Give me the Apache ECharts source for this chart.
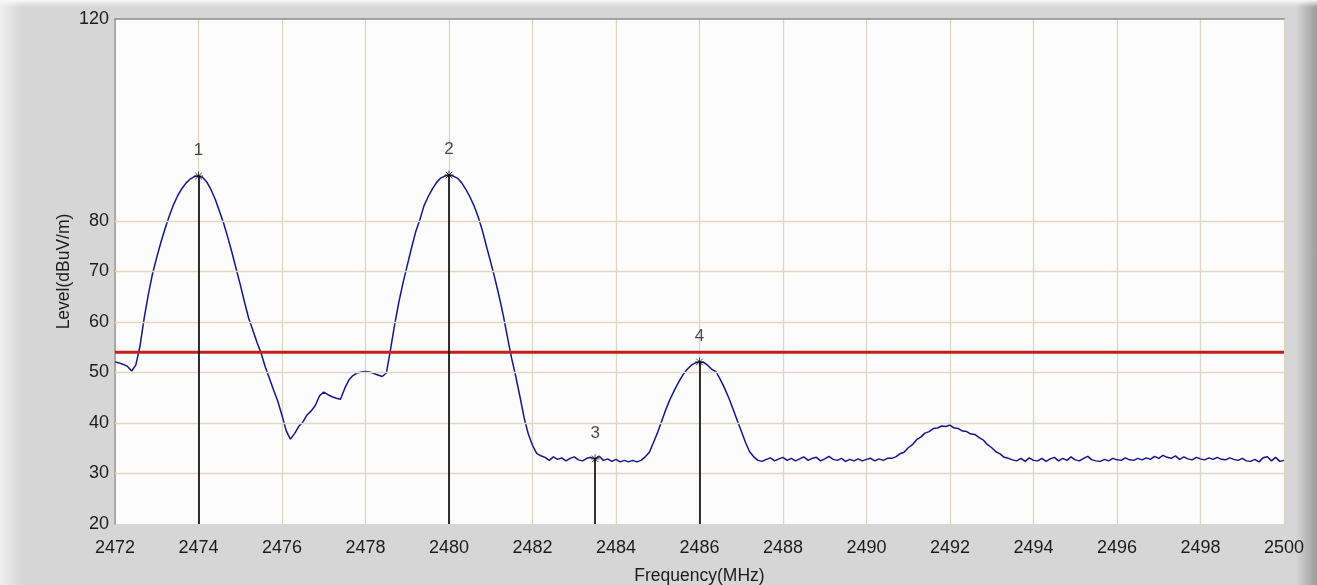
<!DOCTYPE html>
<html>
<head>
<meta charset="utf-8">
<title>Frequency sweep</title>
<script src="https://cdn.jsdelivr.net/npm/echarts@6/dist/echarts.min.js"></script>
<style>
  html, body { margin: 0; padding: 0; }
  #chart {
    width: 1317px; height: 585px;
    background:
      linear-gradient(to bottom, rgba(250,250,250,0.95) 0px, rgba(250,250,250,0) 7px),
      linear-gradient(to right, #efefef 0px, #d6d6d6 22px, #d6d6d6 1296px, #c8c8c8 1301px, #9c9c9c 1317px);
  }
</style>
</head>
<body>
<div id="chart"></div>
<script>
// Sweep: 2472 MHz to 2500 MHz, one reading every 0.1 MHz (dBuV/m)
const freqStart = 2472;
const freqStep = 0.1;
const levels = [
  52.1, 51.9, 51.6, 51.2, 50.3, 51.5, 55.3, 60.8, 65.5, 69.6,   // 2472
  72.8, 75.8, 78.5, 81.0, 83.2, 85.0, 86.4, 87.5, 88.3, 88.8,   // 2473
  88.9, 88.6, 87.7, 86.2, 84.3, 82.0, 79.6, 76.8, 73.8, 70.6,   // 2474
  67.4, 64.0, 60.8, 58.4, 56.0, 53.8, 51.1, 48.8, 46.5, 44.3,   // 2475
  41.5, 38.5, 36.8, 37.9, 39.3, 40.2, 41.6, 42.4, 43.5, 45.4,   // 2476
  46.1, 45.6, 45.2, 44.9, 44.7, 46.8, 48.5, 49.4, 49.9, 50.1,   // 2477
  50.2, 50.1, 49.8, 49.5, 49.2, 49.9, 54.6, 59.6, 64.0, 67.8,   // 2478
  71.2, 74.6, 77.8, 80.2, 83.0, 84.8, 86.3, 87.6, 88.5, 88.9,   // 2479
  89.1, 88.9, 88.5, 87.6, 86.3, 84.8, 83.0, 80.8, 78.1, 74.9,   // 2480
  71.8, 68.6, 65.1, 61.3, 57.0, 52.8, 49.2, 45.2, 41.0, 37.8,   // 2481
  35.6, 34.0, 33.5, 33.2, 32.6, 33.3, 32.8, 33.1, 32.5, 33.0,   // 2482
  33.3, 32.7, 32.5, 33.0, 33.2, 32.9, 33.4, 32.6, 32.9, 32.4,   // 2483
  32.8, 32.3, 32.6, 32.3, 32.6, 32.3, 32.6, 33.3, 34.2, 36.2,   // 2484
  38.2, 40.5, 42.8, 44.8, 46.5, 48.1, 49.5, 50.6, 51.4, 51.9,   // 2485
  52.1, 52.0, 51.4, 50.6, 50.1, 48.6, 46.9, 45.0, 42.8, 40.6,   // 2486
  38.4, 36.2, 34.3, 33.3, 32.6, 32.4, 32.8, 33.1, 32.5, 32.9,   // 2487
  33.2, 32.6, 33.0, 32.5, 32.9, 33.3, 32.6, 33.0, 33.2, 32.5,   // 2488
  32.9, 33.4, 32.8, 32.6, 33.0, 32.4, 32.8, 32.5, 32.9, 32.5,   // 2489
  32.8, 33.0, 32.5, 32.9, 32.6, 33.0, 33.0, 33.3, 33.9, 34.2,   // 2490
  35.1, 35.7, 36.7, 37.2, 38.0, 38.3, 38.9, 39.0, 39.4, 39.3,   // 2491
  39.6, 39.0, 38.9, 38.4, 38.3, 37.8, 37.7, 37.1, 36.6, 35.7,   // 2492
  35.1, 34.3, 33.9, 33.2, 33.0, 32.7, 32.5, 33.0, 32.4, 33.1,   // 2493
  32.6, 32.5, 33.0, 32.4, 32.9, 33.2, 32.5, 33.0, 32.6, 33.3,   // 2494
  32.7, 32.5, 33.0, 33.4, 32.7, 32.5, 32.4, 32.8, 32.5, 33.0,   // 2495
  32.7, 32.6, 33.1, 32.7, 32.6, 33.0, 32.7, 33.1, 32.8, 33.4,   // 2496
  33.0, 33.6, 33.2, 33.0, 33.5, 32.8, 33.3, 32.9, 32.7, 33.2,   // 2497
  32.9, 32.7, 33.1, 32.8, 33.2, 32.8, 32.7, 33.1, 32.8, 32.6,   // 2498
  33.0, 32.5, 32.4, 32.8, 32.3, 33.1, 33.3, 32.5, 33.2, 32.4,   // 2499
  32.6                                                          // 2500
];

// Limit line
const limitLevel = 54;

// Peak markers
const markerNames  = ['1', '2', '3', '4'];
const markerFreqs  = [2474, 2480, 2483.5, 2486];
const markerLevels = [88.9, 89.1, 32.9, 52.1];

// Axis ticks
const freqMin = 2472, freqMax = 2500, freqInterval = 2;
const levelMin = 20, levelMax = 120, levelInterval = 10;
const levelLabels = [20, 30, 40, 50, 60, 70, 80, 120];
const levelGridLines = [30, 40, 50, 60, 70, 80];

const tracePoints = levels.map((v, i) => [Math.round((freqStart + i * freqStep) * 10) / 10, v]);
const markerPoints = markerFreqs.map((f, i) => ({ name: markerNames[i], value: [f, markerLevels[i]] }));

const font = 'Liberation Sans, Arial, sans-serif';
const textColor = '#1c1c1c';
const gridColor = '#ddd7c3';

const chart = echarts.init(document.getElementById('chart'), null, { renderer: 'canvas' });

chart.setOption({
  animation: false,
  backgroundColor: 'transparent',
  grid: {
    left: 115, right: 33, top: 19, bottom: 61,
    containLabel: false,
    outerBoundsMode: 'none',
    show: true, backgroundColor: '#fcfcfc', borderWidth: 0
  },
  xAxis: [{
    type: 'value',
    min: freqMin, max: freqMax, interval: freqInterval,
    name: 'Frequency(MHz)',
    nameLocation: 'middle',
    nameGap: 43,
    nameMoveOverlap: false,
    nameTextStyle: { fontFamily: font, fontSize: 17.5, color: textColor },
    axisLine: { show: false },
    axisTick: { show: false },
    axisLabel: { fontFamily: font, fontSize: 18, color: textColor, margin: 15, formatter: v => String(v) },
    splitLine: { show: true, lineStyle: { color: gridColor, width: 1.3 } }
  }, {
    type: 'value',
    position: 'top',
    min: freqMin, max: freqMax,
    axisLine: { show: true, onZero: false, lineStyle: { color: '#8c8c8c', width: 1.5 } },
    axisTick: { show: false },
    axisLabel: { show: false },
    splitLine: { show: false }
  }],
  yAxis: {
    type: 'value',
    min: levelMin, max: levelMax, interval: levelInterval,
    name: 'Level(dBuV/m)',
    nameLocation: 'middle',
    nameGap: 42,
    nameMoveOverlap: false,
    nameTextStyle: { fontFamily: font, fontSize: 17.5, color: textColor },
    axisLine: { show: true, lineStyle: { color: '#9a9a9a', width: 1.5 } },
    axisTick: { show: false },
    axisLabel: {
      fontFamily: font, fontSize: 18, color: textColor, margin: 6,
      formatter: v => (levelLabels.includes(v) ? String(v) : '')
    },
    splitLine: { show: false }
  },
  series: [
    {
      // horizontal grid lines
      type: 'line',
      data: [],
      silent: true,
      z: 1,
      markLine: {
        silent: true,
        symbol: 'none',
        label: { show: false },
        lineStyle: { type: 'solid', color: gridColor, width: 1.3 },
        data: levelGridLines.map(v => ({ yAxis: v }))
      }
    },
    {
      // measured trace
      type: 'line',
      data: tracePoints,
      showSymbol: false,
      z: 3,
      lineStyle: { color: '#16168c', width: 1.5 },
      silent: true
    },
    {
      // limit line
      type: 'line',
      data: [[freqMin, limitLevel], [freqMax, limitLevel]],
      showSymbol: false,
      z: 4,
      lineStyle: { color: '#c3201c', width: 3 },
      silent: true
    },
    {
      // peak markers with drop lines to the axis
      type: 'scatter',
      data: markerPoints,
      z: 5,
      symbol: 'path://M0,-5L0,5M-5,0L5,0M-3.6,-3.6L3.6,3.6M-3.6,3.6L3.6,-3.6',
      symbolSize: 9,
      itemStyle: { color: 'transparent', borderColor: '#111', borderWidth: 1 },
      label: {
        show: true, position: 'top', distance: 12,
        formatter: p => p.name,
        fontFamily: font, fontSize: 17, color: textColor
      },
      markLine: {
        silent: true,
        symbol: 'none',
        label: { show: false },
        lineStyle: { type: 'solid', color: '#000', width: 1.6 },
        data: markerFreqs.map((f, i) => [
          { coord: [f, markerLevels[i]] },
          { coord: [f, levelMin] }
        ])
      }
    }
  ]
});
</script>
</body>
</html>
